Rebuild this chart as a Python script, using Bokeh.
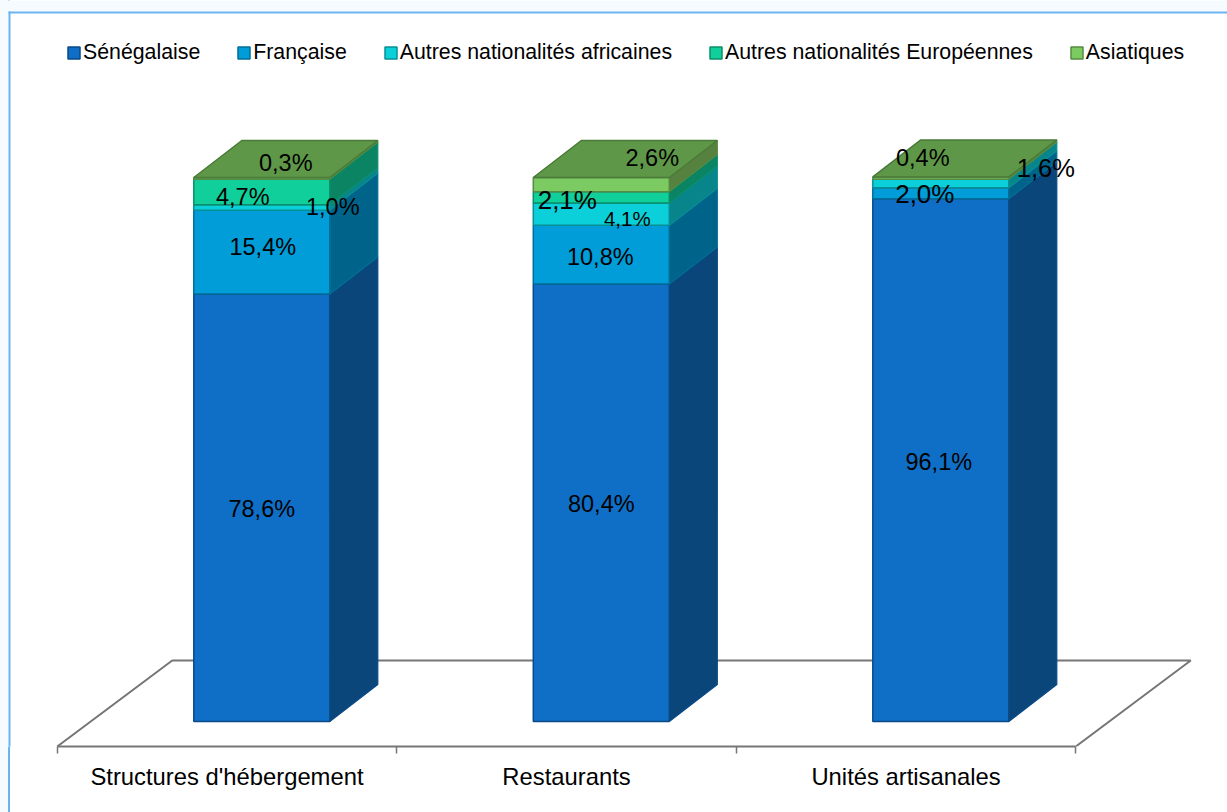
from bokeh.plotting import figure
from bokeh.models import Legend, LegendItem, FixedTicker, BoxAnnotation
from bokeh.core.properties import value
from bokeh.embed import file_html
from bokeh.resources import INLINE

# ---- data ----
categories = ["Structures d'hébergement", "Restaurants", "Unités artisanales"]
series_names = ["Sénégalaise", "Française", "Autres nationalités africaines",
                "Autres nationalités Européennes", "Asiatiques"]
senegalaise = [78.6, 80.4, 96.1]
francaise = [15.4, 10.8, 2.0]
africaines = [1.0, 4.1, 1.6]
europeennes = [4.7, 2.1, 0.0]
asiatiques = [0.3, 2.6, 0.4]

# ---- styles ----
FRONT = ["#0F6FC6", "#009DD9", "#0BD0D9", "#10CF9B", "#7CCA62"]
SIDE = ["#0A4679", "#00648A", "#07858B", "#0A8463", "#56813F"]
EDGE = ["#0A4A88", "#006E98", "#088F96", "#0B8E6A", "#558C42"]
TOP_FILL = "#5F9748"
TOP_EDGE = "#4A7A38"
AXIS = "#767676"
OUTER = "#F5FBFF"
EDGE_BLUE = "#6CB4F0"

PX_X = 339.5           # pixels per category
PX_Y = 5.44            # pixels per percentage point
BAR_W = 136 / PX_X
DX, DY = 48 / PX_X, 37 / PX_Y          # bar depth
OX, OY = 34.8 / PX_X, 25 / PX_Y        # bar offset inside the floor
FDX, FDY = 115 / PX_X, 86 / PX_Y       # floor depth
FRAME_W, FRAME_H, BOTTOM = 1227, 812, 66

x0 = (0 - 226.5) / PX_X
y_floor = -OY
y_top = y_floor + 746 / PX_Y

p = figure(width=FRAME_W, height=FRAME_H, output_backend="svg", toolbar_location=None,
           x_range=(x0, x0 + FRAME_W / PX_X), y_range=(y_floor, y_top),
           min_border_left=0, min_border_right=0, min_border_top=0, min_border_bottom=BOTTOM,
           outline_line_color=None, background_fill_color="white", border_fill_alpha=0,
           y_axis_location=None)
p.styles = {"background": f"linear-gradient(to right, {OUTER} 0 8px, {EDGE_BLUE} 8px 10px, white 10px)"}
p.grid.visible = False

# floor
fl, fr = -0.5, 2.5
p.line([fl, fl + FDX, fr + FDX, fr], [y_floor, y_floor + FDY, y_floor + FDY, y_floor],
       line_color=AXIS, line_width=2)

series = [senegalaise, francaise, africaines, europeennes, asiatiques]
items = []
segments = []
for s, vals in enumerate(series):
    lefts, rights, bottoms, tops, side_x, side_y = [], [], [], [], [], []
    for c, v in enumerate(vals):
        if v <= 0:
            continue
        b = sum(series[k][c] for k in range(s))
        cx = c + OX
        l, r = cx - BAR_W / 2, cx + BAR_W / 2
        lefts.append(l); rights.append(r); bottoms.append(b); tops.append(b + v)
        side_x.append([r, r + DX, r + DX, r])
        side_y.append([b, b + DY, b + v + DY, b + v])
        segments.append((c, s, v, cx, b + v / 2))
    p.patches(side_x, side_y, fill_color=SIDE[s], line_color=EDGE[s], line_width=1.2)
    q = p.quad(left=lefts, right=rights, bottom=bottoms, top=tops,
               fill_color=FRONT[s], line_color=EDGE[s], line_width=1.5)
    items.append(LegendItem(label=series_names[s], renderers=[q]))

# top faces
tx, ty = [], []
for c in range(3):
    t = sum(sr[c] for sr in series)
    l, r = c + OX - BAR_W / 2, c + OX + BAR_W / 2
    tx.append([l, l + DX, r + DX, r])
    ty.append([t, t + DY, t + DY, t])
p.patches(tx, ty, fill_color=TOP_FILL, line_color=TOP_EDGE, line_width=1.5)

# data labels: manual pixel shifts (right, up) from the segment centre, as in the reference
shift = {(0, 0): (0, -1), (0, 1): (1, 5), (0, 2): (71, 0), (0, 3): (-19, -5), (0, 4): (24, 15),
         (1, 0): (0, -1), (1, 1): (-1, -2), (1, 2): (26, -4), (1, 3): (-34, -3), (1, 4): (51, 27),
         (2, 0): (-2, -2), (2, 1): (-16, -1), (2, 2): (105, 15), (2, 4): (-18, 20)}
label_size = {(1, 2): "20.5px", (1, 3): "26px", (2, 1): "26px", (2, 2): "25.5px"}
for size in ("23.5px", "20.5px", "26px", "25.5px"):
    xs, ys, tt, xo, yo = [], [], [], [], []
    for c, s, v, cx, cy in segments:
        if label_size.get((c, s), "23.5px") != size:
            continue
        xs.append(cx); ys.append(cy)
        tt.append(f"{v:.1f}%".replace(".", ","))
        xo.append(shift[(c, s)][0]); yo.append(-shift[(c, s)][1])
    p.text(xs, ys, text=tt, x_offset=xo, y_offset=yo, text_align="center", text_baseline="middle",
           text_font=value("Liberation Sans"), text_font_size=value(size), text_color="black")

# axis
ax = p.xaxis[0]
ax.ticker = FixedTicker(ticks=[0, 1, 2], minor_ticks=[-0.5, 0.5, 1.5, 2.5])
ax.major_label_overrides = {i: n for i, n in enumerate(categories)}
ax.bounds = (fl, fr)
ax.axis_line_color = AXIS
ax.axis_line_width = 2
ax.major_tick_line_color = None
ax.minor_tick_line_color = AXIS
ax.minor_tick_line_width = 1.5
ax.minor_tick_in = 0
ax.minor_tick_out = 7
ax.major_tick_in = 0
ax.major_tick_out = 7
ax.major_label_standoff = 9
ax.major_label_text_font = "Liberation Sans"
ax.major_label_text_font_size = "23.8px"
ax.major_label_text_color = "black"

# legend
leg = Legend(items=items, orientation="horizontal", location=(66, 681),
             border_line_color=None, background_fill_alpha=0,
             glyph_width=15, glyph_height=15, label_standoff=2, spacing=36,
             padding=0, margin=0,
             label_text_font="Liberation Sans", label_text_font_size="21.3px",
             label_text_color="black", label_height=12)
p.add_layout(leg, "center")


def strip(left, right, top, bottom, color):
    return BoxAnnotation(left=left, right=right, top=top, bottom=bottom,
                         left_units="canvas", right_units="canvas",
                         top_units="canvas", bottom_units="canvas",
                         fill_color=color, fill_alpha=1, line_color=None)


# panel surround and edges inside the frame
p.add_layout(strip(0, 8, 0, 812, OUTER))
p.add_layout(strip(0, 1227, 0, 11, OUTER))
p.add_layout(strip(8, 10, 11, 812, EDGE_BLUE))
p.add_layout(strip(8, 1227, 11, 13, EDGE_BLUE))

open("out.html", "w").write(file_html(p, INLINE))
